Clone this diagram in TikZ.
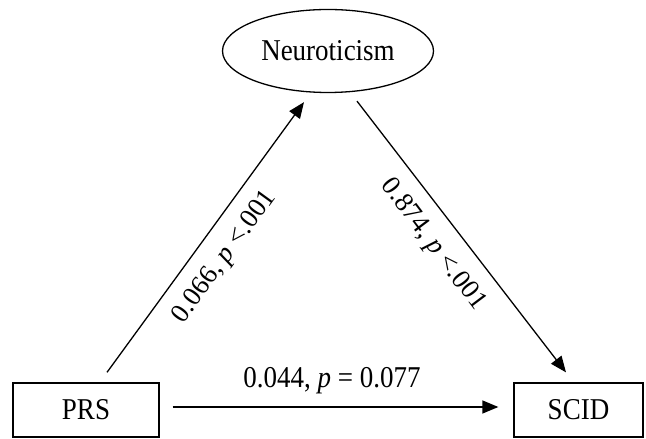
\documentclass[tikz,border=0pt]{standalone}
\usepackage{fontspec}
\setmainfont{Liberation Serif}
\usetikzlibrary{arrows.meta,calc,shapes.geometric}
\tikzset{
  lw/.style={line width=1.3pt},
  box/.style={draw,lw,minimum height=54pt,inner sep=0pt,font=\fontsize{27}{30}\selectfont},
  oval/.style={draw,lw,ellipse,minimum width=211pt,minimum height=83pt,inner sep=0pt,font=\fontsize{27}{30}\selectfont},
  conn/.style={lw,-{Triangle[length=16pt,width=13pt]}},
  lab/.style={inner sep=0pt,font=\fontsize{27}{30}\selectfont}
}
\newcommand{\vs}[1]{\scalebox{1}[1.12]{#1}}
\begin{document}
\begin{tikzpicture}[x=1pt,y=1pt]
\useasboundingbox (0,0) rectangle (646,439);
\node[oval] (neuro) at (328,388) {\vs{Neuroticism}};
\node[box,minimum width=146pt] (prs) at (86,29) {\vs{PRS}};
\node[box,minimum width=129pt] (scid) at (578.5,29) {\vs{SCID}};
\coordinate (a1) at ($(prs.north)+(21,10)$);
\coordinate (a2) at ($(neuro.south)+(-24,-9)$);
\coordinate (b1) at ($(neuro.south)+(29,-8)$);
\coordinate (b2) at ($(scid.north)+(-12.5,10)$);
\coordinate (c1) at ($(prs.east)+(13,3)$);
\coordinate (c2) at ($(scid.west)+(-15,3)$);
\draw[conn] (a1) -- (a2);
\draw[conn] (b1) -- (b2);
\draw[conn] (c1) -- (c2);
\node[lab] (l1) at (332,58) {\vs{0.044, \textit{p} = 0.077}};
\node[lab,rotate=54] (l2) at (225,182) {0.066, \textit{p} <.001};
\node[lab,rotate=-53] (l3) at (433,194) {0.874, \textit{p} <.001};
\end{tikzpicture}
\end{document}
